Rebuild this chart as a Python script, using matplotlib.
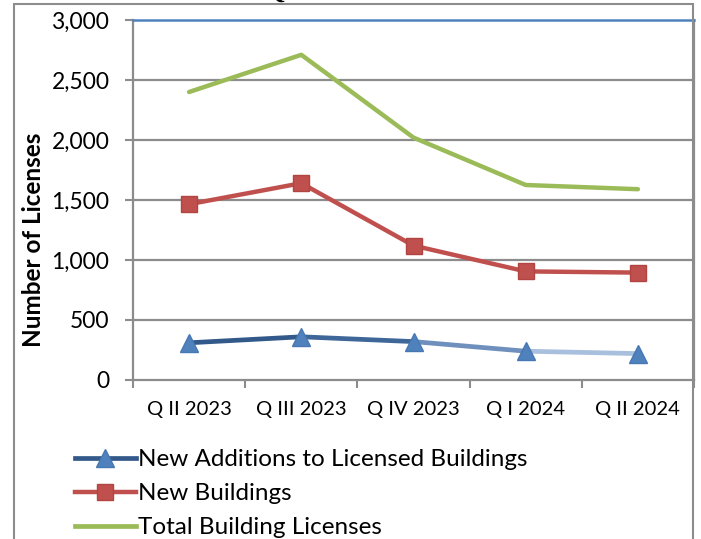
import matplotlib
matplotlib.use("Agg")
import matplotlib.pyplot as plt
from matplotlib.lines import Line2D
from matplotlib.patches import Rectangle

# quarterly building licences
quarters = ["Q II 2023", "Q III 2023", "Q IV 2023", "Q I 2024", "Q II 2024"]
additions = [310, 360, 320, 240, 220]
new_buildings = [1465, 1640, 1120, 905, 895]
total = [2400, 2710, 2020, 1625, 1590]

# gradient shades for the "additions" line (dark -> light)
add_shades = ["#33598a", "#3e6698", "#6f90bd", "#a8bfdd"]

plt.rcParams["font.family"] = ["Lato", "DejaVu Sans"]

W, H = 701, 539
fig = plt.figure(figsize=(W / 100, H / 100), dpi=100)
ax = fig.add_axes([133 / W, 1 - 380 / H, (694 - 133) / W, 360 / H])

x = list(range(len(quarters)))

# outer chart frame
fig.patches.append(Rectangle((14 / W, -0.05), (693 - 14) / W, 1.05 - 4 / H,
                             transform=fig.transFigure, fill=False,
                             edgecolor="#8c8c8c", linewidth=1.5))
# leftover of the cut-off title
fig.text(274 / W, 1 + 9 / H, "Q", ha="center", va="center", fontsize=20,
         fontweight="bold", family="Liberation Serif")

# gridlines
for v in [500, 1000, 1500, 2000, 2500]:
    ax.axhline(v, color="#8c8c8c", linewidth=1.6, zorder=1)

ax.plot(x, total, color="#9bbb59", linewidth=3.2, solid_capstyle="round",
        zorder=3)
ax.plot(x, new_buildings, color="#c0504d", linewidth=3.2, marker="s",
        markersize=11.5, markerfacecolor="#c0504d", markeredgecolor="#b04541",
        zorder=4)
for i in range(len(x) - 1):
    ax.plot(x[i:i + 2], additions[i:i + 2], color=add_shades[i],
            linewidth=3.4, solid_capstyle="round", zorder=4)
ax.plot(x, additions, linestyle="none", marker="^", markersize=13.5,
        color="#4f81bd", markeredgecolor="#4778b3", zorder=5)

ax.set_xlim(-0.5, len(quarters) - 0.5)
ax.set_ylim(0, 3000)
ax.set_yticks([0, 500, 1000, 1500, 2000, 2500, 3000])
ax.set_yticklabels(["0", "500", "1,000", "1,500", "2,000", "2,500", "3,000"])
ax.set_xticks(x)
ax.set_xticklabels(quarters)
ax.set_xticks([i - 0.5 for i in range(len(quarters) + 1)], minor=True)

ax.tick_params(axis="y", length=6, width=1.5, color="#8c8c8c", pad=11,
               labelsize=16.5)
ax.tick_params(axis="x", which="major", length=0, pad=15, labelsize=14.5)
ax.tick_params(axis="x", which="minor", length=6, width=1.5, color="#8c8c8c")

for side in ["left", "bottom", "right"]:
    ax.spines[side].set_color("#8c8c8c")
    ax.spines[side].set_linewidth(1.6)
ax.spines["top"].set_color("#4f81bd")
ax.spines["top"].set_linewidth(1.8)

ax.set_ylabel("Number of Licenses", fontsize=17.5, fontweight="bold")
ax.yaxis.set_label_coords(-0.157, 0.39)

handles = [
    Line2D([], [], color="#33598a", linewidth=3.4, marker="^", markersize=13.5,
           markerfacecolor="#4f81bd", markeredgecolor="#4778b3"),
    Line2D([], [], color="#c0504d", linewidth=3.2, marker="s", markersize=11.5,
           markerfacecolor="#c0504d", markeredgecolor="#b04541"),
    Line2D([], [], color="#9bbb59", linewidth=3.4),
]
labels = ["New Additions to Licensed Buildings", "New Buildings",
          "Total Building Licenses"]
fig.legend(handles, labels, loc="upper left",
           bbox_to_anchor=(75 / W, 1 - 449 / H), frameon=False, fontsize=17.5,
           handlelength=2.5, handletextpad=0.08, labelspacing=0.54,
           borderaxespad=0, borderpad=0)

fig.savefig("out.png", dpi=100)
